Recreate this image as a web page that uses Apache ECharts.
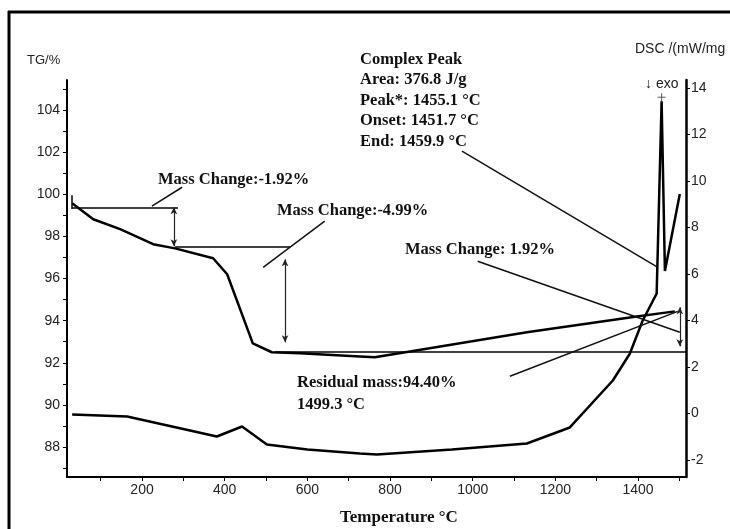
<!DOCTYPE html>
<html>
<head>
<meta charset="utf-8">
<script src="https://cdn.jsdelivr.net/npm/echarts@6/dist/echarts.min.js"></script>
<style>
html,body{margin:0;padding:0;background:#fff;}
#chart{width:730px;height:529px;}
</style>
</head>
<body>
<div id="chart"></div>
<script>
// ---- data ----
const tgTemp = [31, 82, 147, 227, 280, 372, 406, 468, 514, 582, 727, 763, 848, 1131, 1397, 1489];
const tgMass = [99.57, 98.81, 98.34, 97.63, 97.43, 96.96, 96.2, 92.92, 92.5, 92.45, 92.30, 92.26, 92.54, 93.45, 94.2, 94.44];

const dscTemp = [31, 164, 316, 381, 442, 502, 600, 727, 768, 950, 1131, 1235, 1339, 1380, 1411, 1436, 1445, 1457, 1465, 1501];
const dscVal  = [-0.04, -0.13, -0.73, -0.99, -0.56, -1.33, -1.55, -1.72, -1.76, -1.55, -1.29, -0.60, 1.42, 2.57, 3.99, 4.85, 5.15, 13.43, 6.13, 9.44];

const xLabelValues = [200, 400, 600, 800, 1000, 1200, 1400];
const xTickValues = [100, 200, 300, 400, 500, 600, 700, 800, 900, 1000, 1100, 1200, 1300, 1400, 1500];
const tgLabelValues = [88, 90, 92, 94, 96, 98, 100, 102, 104];
const tgTickValues = [87, 88, 89, 90, 91, 92, 93, 94, 95, 96, 97, 98, 99, 100, 101, 102, 103, 104, 105];
const dscLabelValues = [-2, 0, 2, 4, 6, 8, 10, 12, 14];

// annotation segments in (temperature, TG %) coordinates
const plainSegments = [
  [[31, 99.38], [287, 99.38]],
  [[31, 99.95], [31, 99.30]],
  [[280, 97.53], [558, 97.53]],
  [[522, 92.54], [1516, 92.54]]
];
const leaderSegments = [
  [[224, 99.43], [297, 100.33]],
  [[493, 96.53], [642, 98.72]],
  [[974, 102.04], [1448, 96.53]],
  [[1012, 96.82], [1501, 93.45]],
  [[1090, 91.36], [1496, 94.44]]
];
const arrowSegments = [
  [[277, 99.38], [277, 97.53]],
  [[546, 96.91], [546, 92.97]],
  [[1501, 94.63], [1501, 92.78]]
];
const peakTop = [[1457, 13.6]];

const annoText = [
  { t: 'Mass Change:-1.92%', x: 158, y: 180 },
  { t: 'Mass Change:-4.99%', x: 277, y: 211 },
  { t: 'Complex Peak', x: 360, y: 60 },
  { t: 'Area: 376.8 J/g', x: 360, y: 80 },
  { t: 'Peak*: 1455.1 °C', x: 360, y: 101 },
  { t: 'Onset: 1451.7 °C', x: 360, y: 121 },
  { t: 'End: 1459.9 °C', x: 360, y: 142 },
  { t: 'Mass Change: 1.92%', x: 405, y: 250 },
  { t: 'Residual mass:94.40%', x: 297, y: 383 },
  { t: '1499.3 °C', x: 297, y: 405 }
];

// ---- chart ----
const chart = echarts.init(document.getElementById('chart'), null, { renderer: 'canvas' });

const serif = '"Liberation Serif", "Times New Roman", serif';
const sans = '"Liberation Sans", Arial, sans-serif';

function zip(a, b) { return a.map((v, i) => [v, b[i]]); }
function segs(list) { return list.map(s => [{ coord: s[0] }, { coord: s[1] }]); }
const plain = v => String(v);

const graphics = [
  { type: 'line', shape: { x1: 8, y1: 12, x2: 730, y2: 12 }, style: { stroke: '#000', lineWidth: 3 } },
  { type: 'line', shape: { x1: 9, y1: 11, x2: 9, y2: 529 }, style: { stroke: '#000', lineWidth: 3 } },
  { type: 'text', left: 27, top: 54, style: { text: 'TG/%', font: '13px ' + sans, fill: '#222' } },
  { type: 'text', left: 635, top: 42, style: { text: 'DSC /(mW/mg', font: '14px ' + sans, fill: '#222' } },
  { type: 'text', left: 645, top: 77, style: { text: '↓ exo', font: '14px ' + sans, fill: '#222' } },
  { type: 'text', left: 340, top: 509, style: { text: 'Temperature °C', font: 'bold 17px ' + serif, fill: '#111' } }
];
annoText.forEach(a => graphics.push({
  type: 'text', left: a.x, top: a.y - 9,
  style: { text: a.t, font: 'bold 16.5px ' + serif, fill: '#111' }
}));

const option = {
  animation: false,
  backgroundColor: '#fff',
  grid: { left: 67, right: 44, top: 80, bottom: 52, containLabel: false },
  xAxis: {
    type: 'value', min: 18.5, max: 1516,
    axisLine: { show: true, onZero: false, lineStyle: { color: '#000', width: 2 } },
    axisTick: { show: true, inside: false, length: 4, customValues: xTickValues, lineStyle: { color: '#000', width: 1 } },
    axisLabel: { customValues: xLabelValues, formatter: plain, margin: 6, color: '#222', fontSize: 14, fontFamily: sans },
    splitLine: { show: false }
  },
  yAxis: [
    {
      type: 'value', min: 86.58, max: 105.42, position: 'left',
      axisLine: { show: true, onZero: false, lineStyle: { color: '#000', width: 2 } },
      axisTick: { show: true, length: 4, customValues: tgTickValues, lineStyle: { color: '#000', width: 1 } },
      axisLabel: { customValues: tgLabelValues, formatter: plain, margin: 7, color: '#222', fontSize: 14, fontFamily: sans },
      splitLine: { show: false }
    },
    {
      type: 'value', min: -2.73, max: 14.34, position: 'right',
      axisLine: { show: true, onZero: false, lineStyle: { color: '#000', width: 2.5 } },
      axisTick: { show: true, length: 4, customValues: dscLabelValues, lineStyle: { color: '#000', width: 1 } },
      axisLabel: { customValues: dscLabelValues, formatter: plain, margin: 5, color: '#222', fontSize: 14, fontFamily: sans },
      splitLine: { show: false }
    }
  ],
  graphic: graphics,
  series: [
    {
      name: 'TG', type: 'line', yAxisIndex: 0, data: zip(tgTemp, tgMass),
      showSymbol: false, smooth: false, lineStyle: { color: '#000', width: 2.5 }
    },
    {
      name: 'DSC', type: 'line', yAxisIndex: 1, data: zip(dscTemp, dscVal),
      showSymbol: false, smooth: false, lineStyle: { color: '#000', width: 2.5 }
    },
    {
      name: 'peakMark', type: 'scatter', yAxisIndex: 1, data: peakTop,
      symbol: 'path://M5,0 L5,10 M0,5 L10,5', symbolSize: 8,
      itemStyle: { color: 'none', borderColor: '#333', borderWidth: 1 }
    },
    {
      name: 'annotations', type: 'line', yAxisIndex: 0, data: [],
      markLine: {
        silent: true, symbol: ['none', 'none'], label: { show: false },
        lineStyle: { color: '#000', width: 1.5, type: 'solid' },
        data: segs(plainSegments)
      }
    },
    {
      name: 'leaders', type: 'line', yAxisIndex: 0, data: [],
      markLine: {
        silent: true, symbol: ['none', 'none'], label: { show: false },
        lineStyle: { color: '#111', width: 1.5, type: 'solid' },
        data: segs(leaderSegments)
      }
    },
    {
      name: 'arrows', type: 'line', yAxisIndex: 0, data: [],
      markLine: {
        silent: true, symbol: ['arrow', 'arrow'], symbolSize: [5, 7], label: { show: false },
        lineStyle: { color: '#222', width: 1.2, type: 'solid' },
        data: segs(arrowSegments)
      }
    }
  ]
};
chart.setOption(option);
</script>
</body>
</html>
